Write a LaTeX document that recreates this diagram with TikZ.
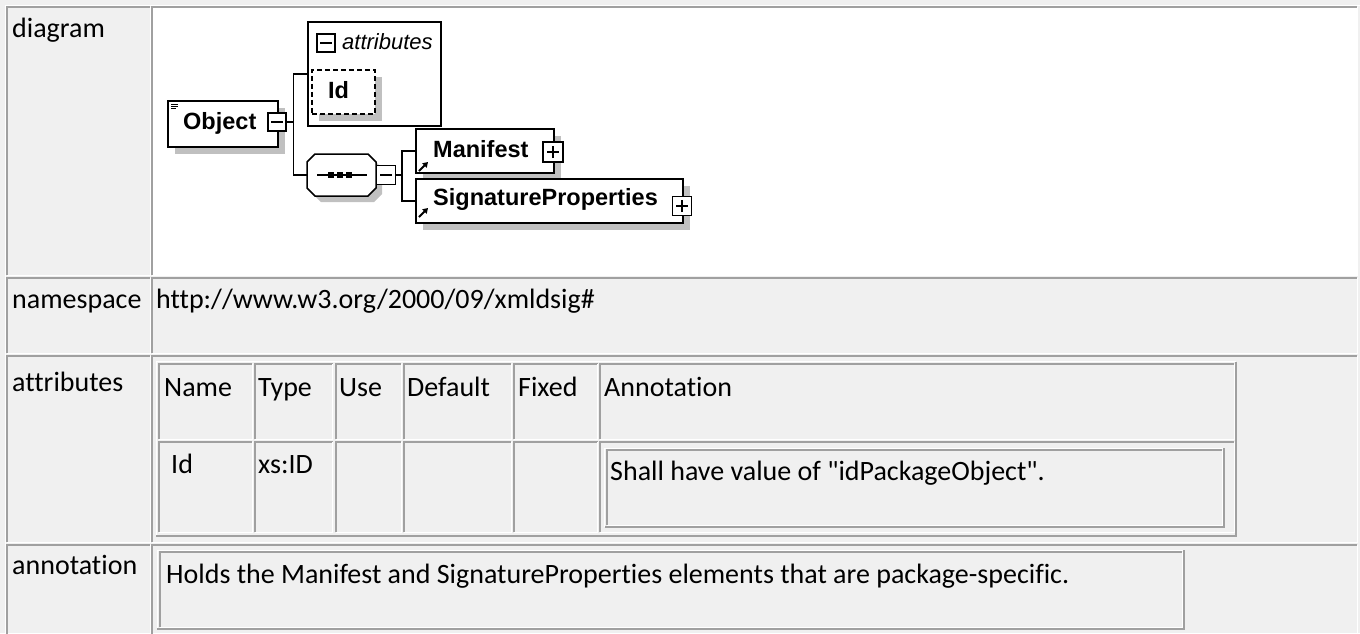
\documentclass[tikz,border=0pt]{standalone}
\usepackage{fontspec}
\setmainfont{Carlito}[Ligatures={TeXOff,CommonOff}]
\newfontfamily\dfont{Liberation Sans}[Ligatures={TeXOff,CommonOff}]
\usetikzlibrary{arrows.meta,shadows}
\definecolor{bg}{HTML}{F0F0F0}
\definecolor{bd}{HTML}{A0A0A0}
\definecolor{shd}{HTML}{C0C0C0}
% inset cell: grey top/left, white bottom/right
\newcommand\incell[4]{%
  \draw[bd,line width=2] (#1,#4) -- (#1,#2) -- (#3,#2);
  \draw[white,line width=1] (#3,#2) -- (#3,#4) -- (#1,#4);}
% outset table: white top/left, grey bottom/right
\newcommand\outtab[4]{%
  \draw[white,line width=1] (#1,#4) -- (#1,#2) -- (#3,#2);
  \draw[bd,line width=2] (#3,#2) -- (#3,#4) -- (#1,#4);}
\begin{document}
\begin{tikzpicture}[x=1pt,y=-1pt,
  lbl/.style={anchor=base west,inner sep=0,font=\fontsize{28}{34}\selectfont},
  dtxt/.style={anchor=base west,inner sep=0,font=\dfont\bfseries\fontsize{23.5}{28}\selectfont},
  ebox/.style={draw=black,line width=1.6,fill=white,rectangle,inner sep=0,anchor=north west},
  sh/.style={general shadow={fill=shd,shadow xshift=7pt,shadow yshift=-7pt}},
  btn/.style={draw=black,line width=1.3,fill=white,rectangle,minimum size=19,inner sep=0},
  btnminus/.style={btn,path picture={\draw[line width=1.3] ([xshift=-6pt]path picture bounding box.center) -- ([xshift=6pt]path picture bounding box.center);}},
  btnplus/.style={btn,path picture={\draw[line width=1.3] ([xshift=-6pt]path picture bounding box.center) -- ([xshift=6pt]path picture bounding box.center) ([yshift=-6pt]path picture bounding box.center) -- ([yshift=6pt]path picture bounding box.center);}},
  conn/.style={line width=1.5,black},
  refarrow/.style={line width=1.8,-{Triangle[length=5pt,width=6pt]}}
]
\useasboundingbox (0,0) rectangle (1360,633);
\fill[bg] (0,0) rectangle (1360,633);

% ---------- outer table ----------
\outtab{5}{5}{1361}{650}
\fill[white] (152,7) rectangle (1357,275);
\incell{7}{7}{150}{275}
\incell{152}{7}{1357}{275}
\incell{7}{278}{150}{353}
\incell{152}{278}{1357}{353}
\incell{7}{356}{150}{542}
\incell{152}{356}{1357}{542}
\incell{7}{545}{150}{640}
\incell{152}{545}{1357}{640}

% labels
\node[lbl] (ldiag) at (12,37) {diagram};
\node[lbl] (lns) at (12,308) {namespace};
\node[lbl] (lnsv) at (156,308) {http://www.w3.org/2000/09/xmldsig\#};
\node[lbl] (lattr) at (12,391) {attributes};
\node[lbl] (lann) at (12,574) {annotation};

% ---------- attributes table ----------
\outtab{156}{361.5}{1235.5}{536}
\incell{159}{364}{252}{439}
\incell{254.5}{364}{332.5}{439}
\incell{335.5}{364}{401}{439}
\incell{403.5}{364}{511}{439}
\incell{513.5}{364}{597.5}{439}
\incell{600}{364}{1234}{439}
\incell{159}{442}{252}{532}
\incell{254.5}{442}{332.5}{532}
\incell{335.5}{442}{401}{532}
\incell{403.5}{442}{511}{532}
\incell{513.5}{442}{597.5}{532}
\incell{600}{442}{1234}{532}
\outtab{604.5}{448}{1224}{527}
\incell{607}{450}{1222}{525}
\node[lbl] (hname) at (164,396) {Name};
\node[lbl] (htype) at (258,396) {Type};
\node[lbl] (huse) at (339,396) {Use};
\node[lbl] (hdef) at (407,396) {Default};
\node[lbl] (hfix) at (518,396) {Fixed};
\node[lbl] (hann) at (604,396) {Annotation};
\node[lbl] (vname) at (171,473) {Id};
\node[lbl] (vtype) at (258,473) {xs:ID};
\node[lbl] (vann) at (610,480) {Shall have value of "idPackageObject".};

% ---------- annotation ----------
\outtab{157}{550}{1184}{629}
\incell{159.5}{552}{1182}{627}
\node[lbl] (annv) at (166,583) {Holds the Manifest and SignatureProperties elements that are package-specific.};

% ---------- diagram ----------
% Object
\node[ebox,sh,minimum width=110,minimum height=46] (obj) at (167,100) {};
\draw[line width=0.9] (171,104.5) -- (178,104.5) (171,106.5) -- (178,106.5) (171,108.5) -- (176,108.5);
\node[dtxt] (objt) at (183,129) {Object};
\node[btnminus,minimum size=18] (objbtn) at (277,122) {};

% attributes group
\node[ebox,minimum width=133,minimum height=104] (attr) at (307,21) {};
\node[btnminus,minimum size=18] (attrbtn) at (326,43) {};
\node[anchor=base west,inner sep=0,font=\dfont\itshape\fontsize{22}{26}\selectfont] (attrt) at (342,49) {attributes};
\node[ebox,sh,dashed,dash pattern=on 5pt off 3pt,minimum width=63,minimum height=44] (idb) at (311,69) {};
\node[dtxt] (idt) at (328,98) {Id};

% sequence
\fill[shd] (321,160) -- (374,160) -- (382,168) -- (382,194) -- (374,202) -- (321,202) -- (313,194) -- (313,168) -- cycle;
\node[minimum width=69,minimum height=42,inner sep=0] (seq) at (341.5,175) {};
\draw[line width=1.5,fill=white] (315,154) -- (368,154) -- (376,162) -- (376,188) -- (368,196) -- (315,196) -- (307,188) -- (307,162) -- cycle;
\draw[line width=1.4] (317,175) -- (367,175);
\fill (328,172) rectangle (334,178);
\fill (337,172) rectangle (343,178);
\fill (346,172) rectangle (352,178);
\node[btnminus] (seqbtn) at (386,175) {};

% Manifest
\node[ebox,sh,minimum width=138,minimum height=44] (man) at (415,128) {};
\node[dtxt] (mant) at (433,157) {Manifest};
\node[btnplus,minimum size=20] (manbtn) at (553,152) {};
\draw[refarrow] (419,171) -- (428,162);

% SignatureProperties
\node[ebox,sh,minimum width=267,minimum height=44] (sig) at (415,178) {};
\node[dtxt] (sigt) at (433,205) {SignatureProperties};
\node[btnplus] (sigbtn) at (682,206) {};
\draw[refarrow] (419,217) -- (428,208);

% connectors
\draw[conn] (objbtn.east) -- ++(7,0) coordinate (f1) |- (attr.west);
\draw[conn] (f1) |- (seq.west);
\draw[conn] (seqbtn.east) -- ++(6,0) coordinate (f2) |- (man.west);
\draw[conn] (f2) |- (sig.west);
\end{tikzpicture}
\end{document}
